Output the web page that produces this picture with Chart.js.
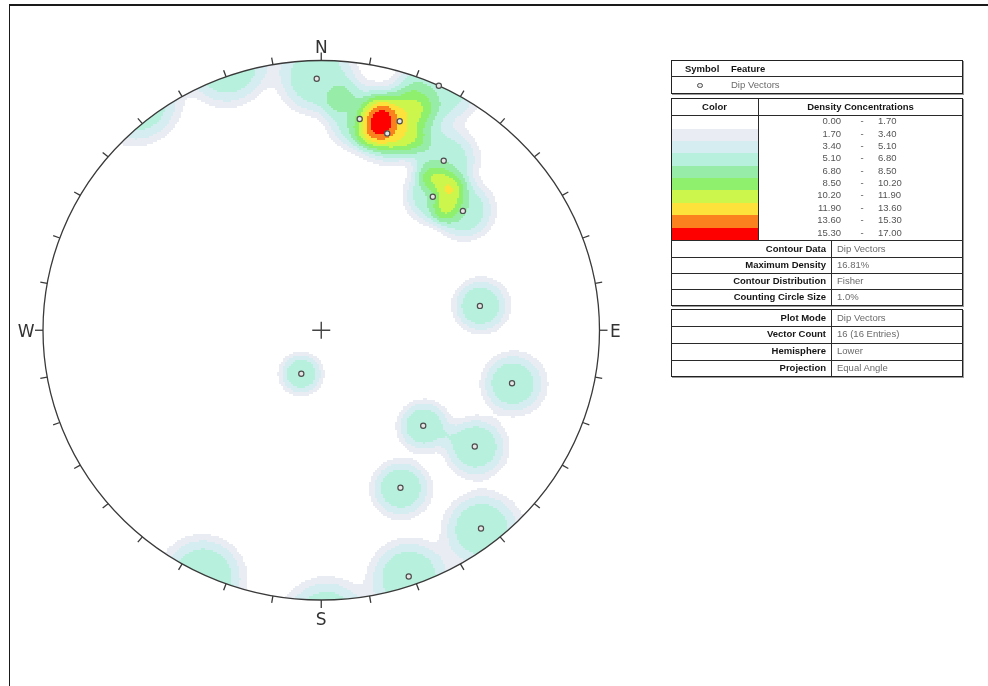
<!DOCTYPE html>
<html>
<head>
<meta charset="utf-8">
<title>Dip Vectors - Density Concentrations</title>
<script src="https://cdn.jsdelivr.net/npm/chart.js@4.4.0/dist/chart.umd.min.js"></script>
<style>
  html, body { margin: 0; padding: 0; background: #fff; }
  #page { position: relative; width: 988px; height: 686px; overflow: hidden;
          font-family: "Liberation Sans", Arial, sans-serif; }
  #frame { position: absolute; left: 9px; top: 4px; width: 1200px; height: 900px;
           border-top: 2px solid #1a1a1a; border-left: 1.5px solid #1a1a1a; }
  #wrap { position: absolute; left: 0; top: 0; width: 988px; height: 686px; }
  .ln { position: absolute; box-sizing: border-box; }
  .tx { position: absolute; white-space: nowrap; font-size: 9.5px; }
  .b { font-weight: bold; color: #151515; }
  .v { color: #6a6a6a; }
  .n { color: #555; }
</style>
</head>
<body>
<div id="page">
  <div id="frame"></div>
  <div id="wrap"><canvas id="stereonet"></canvas></div>
</div>
<script>
// dip vectors (trend / plunge, degrees)
const trend  = [359, 25, 10, 20, 18, 35, 39, 49, 81, 204, 106, 134, 128, 154, 142, 161];
const plunge = [4, 0, 13, 11, 15, 15, 25, 22, 30, 70, 19, 36, 20, 24, 4, 2];

// density bins (%)
const binLow    = [0.00, 1.70, 3.40, 5.10, 6.80, 8.50, 10.20, 11.90, 13.60, 15.30];
const binHigh   = [1.70, 3.40, 5.10, 6.80, 8.50, 10.20, 11.90, 13.60, 15.30, 17.00];
const binColors = ['#ffffff', '#e9edf3', '#d5ecf0', '#b7f1dd', '#97eda7',
                   '#8ef06c', '#ccf64c', '#fde23b', '#fb811e', '#ff0000'];

const contourRows = [['Contour Data', 'Dip Vectors'], ['Maximum Density', '16.81%'],
                     ['Contour Distribution', 'Fisher'], ['Counting Circle  Size', '1.0%']];
const plotRows = [['Plot Mode', 'Dip Vectors'], ['Vector Count', '16 (16 Entries)'],
                  ['Hemisphere', 'Lower'], ['Projection', 'Equal Angle']];
const cardinals = ['N', 'E', 'S', 'W'];

// smoothing kernel for the contouring (angular width in degrees, shape exponent, peak weight)
const KERNEL_WIDTH = 8.7;
const KERNEL_POWER = 4;
const KERNEL_PEAK = 0.985;

const R2D = 180 / Math.PI;

// lower hemisphere, equal angle
function project(t, p) {
  const r = Math.tan((90 - p) / 2 / R2D);
  return { x: r * Math.sin(t / R2D), y: r * Math.cos(t / R2D) };
}
function toVec(t, p) {
  const tr = t / R2D, pr = p / R2D;
  return [Math.cos(pr) * Math.cos(tr), Math.cos(pr) * Math.sin(tr), Math.sin(pr)];
}

const vecs = trend.map((t, i) => toVec(t, plunge[i]));

function densityAt(n, e, d) {
  let s = 0;
  for (const v of vecs) {
    const c = Math.min(1, Math.abs(v[0] * n + v[1] * e + v[2] * d));
    const a = Math.acos(c) * R2D;
    s += Math.exp(-Math.pow(a / KERNEL_WIDTH, KERNEL_POWER));
  }
  return s * KERNEL_PEAK * 100 / vecs.length;
}

function binIndex(val) {
  for (let i = 0; i < binHigh.length; i++) if (val < binHigh[i]) return i;
  return binHigh.length - 1;
}

const stereonetPlugin = {
  id: 'stereonet',
  beforeDatasetsDraw(chart) {
    const { ctx, chartArea: a, scales: { x, y } } = chart;
    const cx = x.getPixelForValue(0), cy = y.getPixelForValue(0);
    const rx = x.getPixelForValue(1) - cx, ry = cy - y.getPixelForValue(1);

    // contours
    ctx.save();
    ctx.beginPath();
    ctx.ellipse(cx, cy, rx, ry, 0, 0, Math.PI * 2);
    ctx.clip();
    const step = 2;
    for (let py = Math.floor(a.top); py < a.bottom; py += step) {
      for (let px = Math.floor(a.left); px < a.right; px += step) {
        const u = x.getValueForPixel(px + step / 2);
        const v = y.getValueForPixel(py + step / 2);
        const r = Math.hypot(u, v);
        if (r > 1.03) continue;
        const phi = 2 * Math.atan(r);
        const s = Math.sin(phi);
        const n = r ? s * v / r : 0, e = r ? s * u / r : 0;
        const k = binIndex(densityAt(n, e, Math.cos(phi)));
        if (k === 0) continue;
        ctx.fillStyle = binColors[k];
        ctx.fillRect(px, py, step, step);
      }
    }
    ctx.restore();

    // primitive circle and 10 degree ticks
    ctx.save();
    ctx.strokeStyle = '#3a3a3a';
    ctx.lineWidth = 1.3;
    ctx.beginPath();
    ctx.ellipse(cx, cy, rx, ry, 0, 0, Math.PI * 2);
    ctx.stroke();
    for (let az = 0; az < 360; az += 10) {
      const p0x = x.getPixelForValue(Math.sin(az / R2D));
      const p0y = y.getPixelForValue(Math.cos(az / R2D));
      const dx = p0x - cx, dy = p0y - cy, len = Math.hypot(dx, dy);
      const tl = az % 90 === 0 ? 8 : 7;
      ctx.beginPath();
      ctx.moveTo(p0x, p0y);
      ctx.lineTo(p0x + dx / len * tl, p0y + dy / len * tl);
      ctx.stroke();
    }

    // centre cross
    ctx.lineWidth = 1.4;
    ctx.strokeStyle = '#444';
    ctx.beginPath();
    ctx.moveTo(cx - 9, cy); ctx.lineTo(cx + 9, cy);
    ctx.moveTo(cx, cy - 8.5); ctx.lineTo(cx, cy + 8.5);
    ctx.stroke();

    // compass labels
    ctx.fillStyle = '#333';
    ctx.font = '17px "DejaVu Sans", sans-serif';
    ctx.textBaseline = 'alphabetic';
    ctx.textAlign = 'center';
    ctx.fillText(cardinals[0], cx, cy - ry - 8);
    ctx.fillText(cardinals[2], cx, cy + ry + 25);
    ctx.textAlign = 'left';
    ctx.fillText(cardinals[1], cx + rx + 10.5, cy + 6.3);
    ctx.textAlign = 'right';
    ctx.fillText(cardinals[3], cx - rx - 8.5, cy + 6.3);
    ctx.restore();
  }
};

new Chart(document.getElementById('stereonet'), {
  type: 'scatter',
  data: {
    datasets: [{
      data: trend.map((t, i) => project(t, plunge[i])),
      pointStyle: 'circle',
      pointRadius: 2.6,
      borderWidth: 1.2,
      borderColor: '#4d4d4d',
      backgroundColor: '#e6e6e6',
      clip: false
    }]
  },
  options: {
    responsive: true,
    maintainAspectRatio: false,
    animation: false,
    events: [],
    layout: { padding: { left: 43, top: 60.5, right: 388.5, bottom: 86 } },
    plugins: { legend: { display: false }, tooltip: { enabled: false } },
    scales: {
      x: { type: 'linear', min: -1, max: 1, display: false },
      y: { type: 'linear', min: -1, max: 1, display: false }
    }
  },
  plugins: [stereonetPlugin]
});

// side tables
const page = document.getElementById('page');
const px = v => v + 'px';
function box(x, y, w, h, css) {
  const d = document.createElement('div');
  d.className = 'ln';
  Object.assign(d.style, { left: px(x), top: px(y), width: px(w), height: px(h) }, css || {});
  page.appendChild(d);
  return d;
}
function text(str, cls, y, h, opts) {
  const d = document.createElement('div');
  d.className = 'tx ' + cls;
  d.textContent = str;
  const css = { top: px(y), height: px(h), lineHeight: px(h) };
  if (opts.left !== undefined) css.left = px(opts.left);
  if (opts.right !== undefined) { css.right = px(988 - opts.right); css.textAlign = 'right'; }
  if (opts.center !== undefined) { css.left = px(opts.center - 100); css.width = '200px'; css.textAlign = 'center'; }
  Object.assign(d.style, css);
  page.appendChild(d);
  return d;
}
const edge = { border: '1px solid #222', boxShadow: '1px 1px 0 #9a9a9a' };
const hline = (x, y, w, t) => box(x, y, w, t || 1, { background: '#2a2a2a' });
const vline = (x, y, h) => box(x, y, 1, h, { background: '#2a2a2a' });

// symbol / feature
box(671, 60, 292, 34, edge);
hline(671, 76, 292);
text('Symbol', 'b', 61, 15, { left: 685 });
text('Feature', 'b', 61, 15, { left: 731 });
box(697.3, 82.5, 5.4, 5.4, { border: '1.2px solid #4d4d4d', background: '#e6e6e6', borderRadius: '50%' });
text('Dip Vectors', 'v', 77, 16, { left: 731 });

// density legend
box(671, 98, 292, 208, edge);
text('Color', 'b', 99, 16, { center: 714.5 });
text('Density Concentrations', 'b', 99, 16, { center: 860.5 });
hline(671, 114.8, 292, 1.5);
const rowH = 12.38;
binColors.forEach((c, i) => {
  const y0 = 116.2 + i * rowH;
  box(672, y0, 86, rowH + 0.4, { background: c });
  text(binLow[i].toFixed(2), 'n', y0 - 1, rowH, { right: 841 });
  text('-', 'n', y0 - 1, rowH, { center: 862 });
  text(binHigh[i].toFixed(2), 'n', y0 - 1, rowH, { left: 878 });
});
vline(758, 99, 141);
hline(671, 240, 292);
const cH = 16.25;
contourRows.forEach((r, i) => {
  const y0 = 240.5 + i * cH;
  if (i) hline(671, y0, 292);
  text(r[0], 'b', y0, cH, { right: 826 });
  text(r[1], 'v', y0, cH, { left: 837 });
});
vline(831, 240, 65);

// plot settings
box(671, 309, 292, 68, edge);
const pH = 16.75;
plotRows.forEach((r, i) => {
  const y0 = 309.5 + i * pH;
  if (i) hline(671, y0, 292);
  text(r[0], 'b', y0, pH, { right: 826 });
  text(r[1], 'v', y0, pH, { left: 837 });
});
vline(831, 309, 67);
</script>
</body>
</html>
